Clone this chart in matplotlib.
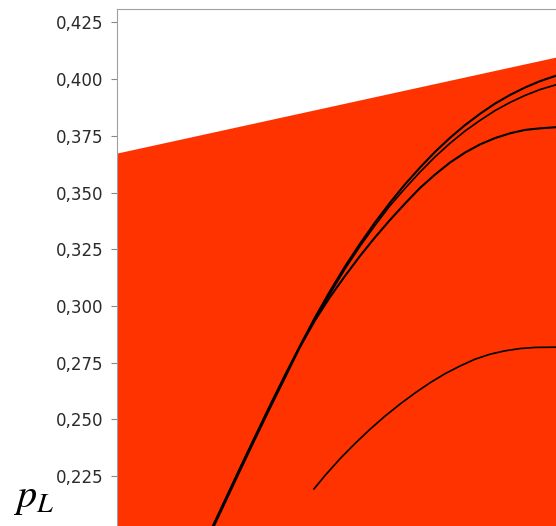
import matplotlib
matplotlib.use("Agg")
import matplotlib.pyplot as plt

# feasible region: straight upper boundary (x in arbitrary units, 0 = left axis)
edge_x = [0.0, 1.0254]
edge_top = [0.3674, 0.4108]

# common x grid for the three upper curves
grid_x = [0.2187, 0.2460, 0.2802, 0.3144, 0.3485, 0.3827, 0.4169, 0.4510, 0.4852,
          0.5194, 0.5535, 0.5877, 0.6219, 0.6560, 0.6902, 0.7244, 0.7585, 0.7927,
          0.8269, 0.8610, 0.8952, 0.9294, 0.9636, 1.0, 1.0319]

a_y = [0.2030, 0.2143, 0.2284, 0.2423, 0.2560, 0.2694, 0.2824, 0.2949, 0.3065,
       0.3174, 0.3274, 0.3368, 0.3455, 0.3536, 0.3610, 0.3679, 0.3741, 0.3797,
       0.3847, 0.3892, 0.3930, 0.3963, 0.3991, 0.4015, 0.4033]

b_y = [0.2030, 0.2143, 0.2284, 0.2423, 0.2560, 0.2694, 0.2820, 0.2940, 0.3054,
       0.3163, 0.3263, 0.3355, 0.3442, 0.3518, 0.3590, 0.3657, 0.3717, 0.3771,
       0.3818, 0.3861, 0.3897, 0.3928, 0.3954, 0.3975, 0.3991]

c_y = [0.2021, 0.2133, 0.2274, 0.2413, 0.2550, 0.2684, 0.2819, 0.2936, 0.3039,
       0.3132, 0.3220, 0.3302, 0.3379, 0.3451, 0.3520, 0.3579, 0.3632, 0.3676,
       0.3712, 0.3740, 0.3761, 0.3776, 0.3783, 0.3788, 0.3789]

d_x = [0.4487, 0.4738, 0.5080, 0.5421, 0.5763, 0.6105, 0.6446, 0.6788, 0.7130,
       0.7472, 0.7813, 0.8155, 0.8497, 0.8838, 0.9180, 0.9522, 1.0, 1.0319]
d_y = [0.2193, 0.2252, 0.2326, 0.2393, 0.2456, 0.2514, 0.2567, 0.2616, 0.2661,
       0.2701, 0.2735, 0.2765, 0.2787, 0.2802, 0.2812, 0.2817, 0.2818, 0.2818]

tick_vals = [0.225, 0.250, 0.275, 0.300, 0.325, 0.350, 0.375, 0.400, 0.425]
tick_labels = ["0,225", "0,250", "0,275", "0,300", "0,325", "0,350", "0,375", "0,400", "0,425"]

fig = plt.figure(figsize=(5.56, 5.26), dpi=100)
ax = fig.add_axes([0.2104, -0.0559, 0.8096, 1.0397])

ax.fill_between(edge_x, 0.19, edge_top, color="#ff3300", linewidth=0)
ax.plot(grid_x, a_y, color="black", lw=1.5)
ax.plot(grid_x, b_y, color="black", lw=1.2)
ax.plot(grid_x, c_y, color="black", lw=1.5)
ax.plot(d_x, d_y, color="black", lw=1.2)

ax.set_xlim(0, 1.0254)
ax.set_ylim(0.19, 0.43113)
ax.set_xticks([])
ax.set_yticks(tick_vals)
ax.set_yticklabels(tick_labels, fontsize=12, color="#2a2a2a")
ax.tick_params(axis="y", length=4, width=0.8, color="#888888", pad=6)

for side in ["right", "bottom"]:
    ax.spines[side].set_visible(False)
for side in ["left", "top"]:
    ax.spines[side].set_color("#a0a0a0")
    ax.spines[side].set_linewidth(0.8)

plt.rcParams["mathtext.fontset"] = "stix"
fig.text(13 / 556, 1 - 507 / 526, r"$p_L$", fontsize=29, va="baseline", ha="left")

fig.savefig("out.png", dpi=100)
